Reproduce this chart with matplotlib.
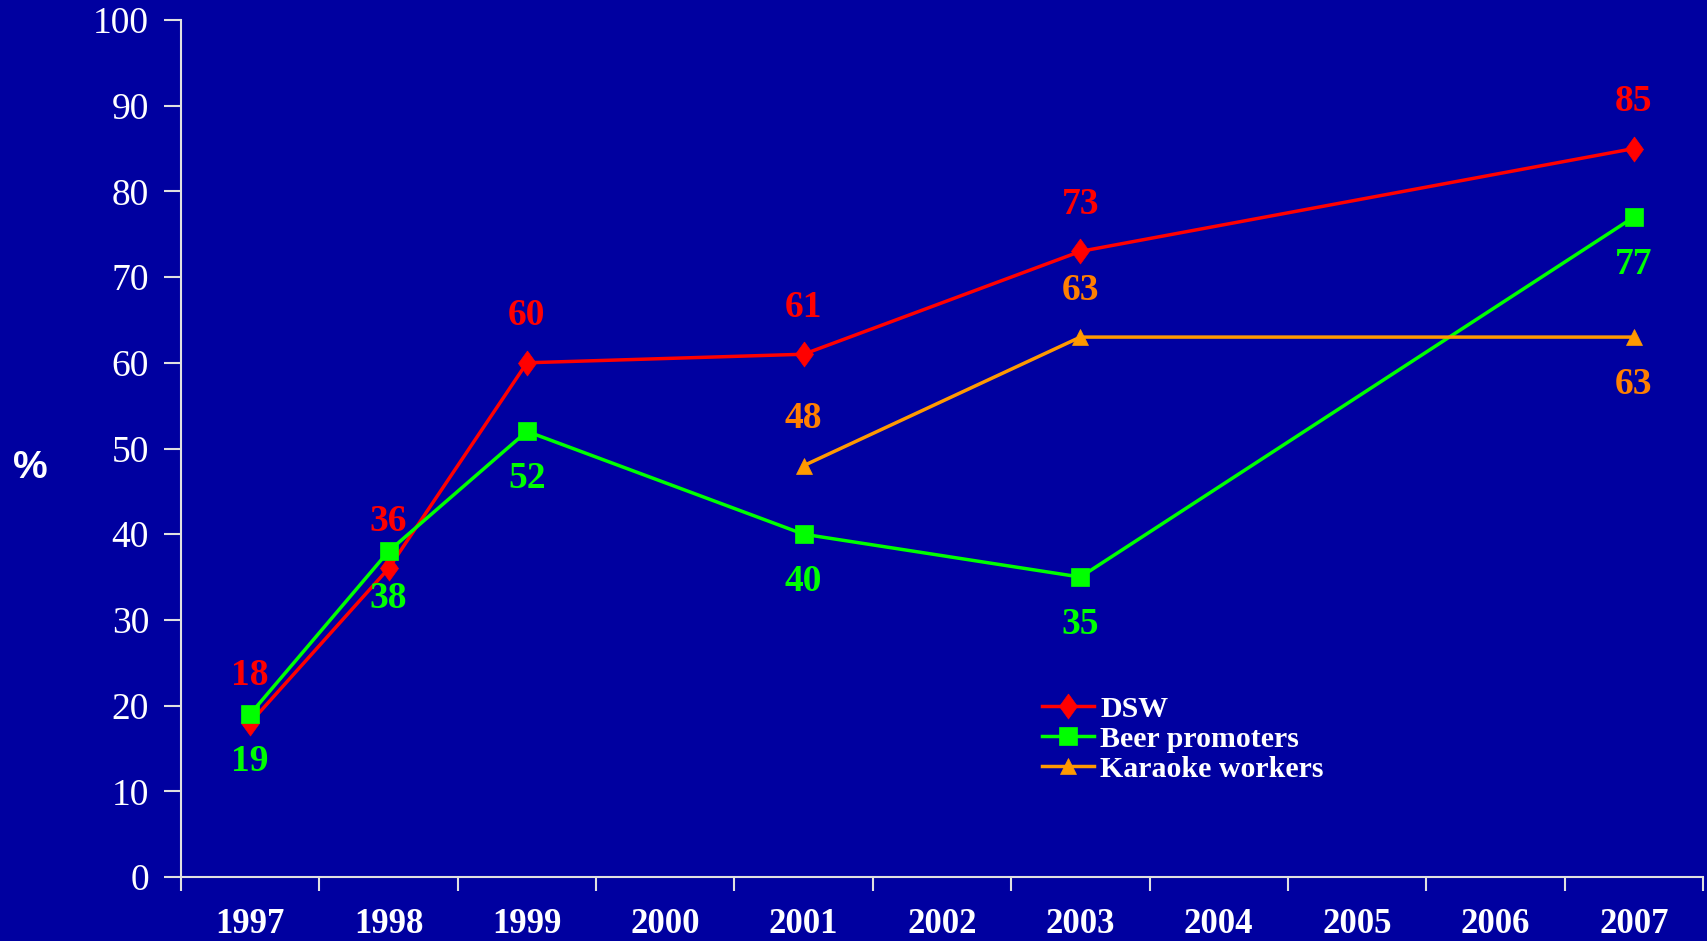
import matplotlib
matplotlib.use("Agg")
import matplotlib.pyplot as plt
import numpy as np

# data
years = ['1997', '1998', '1999', '2000', '2001', '2002', '2003', '2004', '2005', '2006', '2007']
dsw = [18, 36, 60, None, 61, None, 73, None, None, None, 85]
beer = [19, 38, 52, None, 40, None, 35, None, None, None, 77]
karaoke = [None, None, None, None, 48, None, 63, None, None, None, 63]
# label placement for each series: +1 above the point, -1 below
dsw_pos = [1, 1, 1, 0, 1, 0, 1, 0, 0, 0, 1]
beer_pos = [-1, -1, -1, 0, -1, 0, -1, 0, 0, 0, -1]
kar_pos = [0, 0, 0, 0, 1, 0, 1, 0, 0, 0, -1]

bg = '#0000A0'
fig = plt.figure(figsize=(17.08, 9.41), dpi=100, facecolor=bg)
ax = fig.add_axes([181/1708, 1-877/941, (1703-181)/1708, (877-20)/941])
ax.set_facecolor(bg)

# tall diamond like the original
tall_diamond = [(0, 1), (0.72, 0), (0, -1), (-0.72, 0), (0, 1)]

def draw(vals, pos, color, txtcolor, marker, ms, label):
    x = np.array([i for i, v in enumerate(vals) if v is not None])
    y = np.array([v for v in vals if v is not None])
    ax.plot(x, y, color=color, lw=2.5, marker=marker, ms=ms, mfc=color, mec=color, mew=0.5,
            label=label, clip_on=False)
    for i, v in enumerate(vals):
        if v is None:
            continue
        ax.annotate(str(v), (i, v), xytext=(0, 47*pos[i]), textcoords='offset pixels',
                    ha='center', va='center', color=txtcolor, fontsize=27,
                    fontweight='bold', family='Liberation Serif')

draw(dsw, dsw_pos, '#FF0000', '#FF0000', tall_diamond, 18, 'DSW')
draw(beer, beer_pos, '#00FF00', '#00FF00', 's', 13.5, 'Beer promoters')
draw(karaoke, kar_pos, '#FF9900', '#FF7F00', '^', 12, 'Karaoke workers')

ax.set_xlim(-0.5, 10.5)
ax.set_ylim(0, 100)
ax.set_yticks(np.arange(0, 101, 10))
ax.set_xticks(range(len(years)))
ax.set_xticklabels(years)
ax.set_xticks(np.arange(-0.5, 10.6, 1), minor=True)
ax.tick_params(axis='x', which='major', length=0, pad=22, colors='white')
ax.tick_params(axis='x', which='minor', length=10, width=1.5, color='#E0E0E0')
ax.tick_params(axis='y', length=12, width=1.5, color='#E0E0E0', pad=11, colors='white')
for lab in ax.get_xticklabels():
    lab.set_family('Liberation Serif')
    lab.set_fontweight('bold')
    lab.set_fontsize(25)
for lab in ax.get_yticklabels():
    lab.set_family('Liberation Serif')
    lab.set_fontsize(27)

for s in ['top', 'right']:
    ax.spines[s].set_visible(False)
for s in ['left', 'bottom']:
    ax.spines[s].set_color('#E0E0E0')
    ax.spines[s].set_linewidth(1.5)

fig.text(30/1708, 1-468/941, '%', color='white', fontsize=28, fontweight='bold',
         family='Liberation Sans', ha='center', va='center')

leg = ax.legend(loc='upper left', bbox_to_anchor=(1030/1708, 1-684/941), bbox_transform=fig.transFigure,
                frameon=False, handlelength=1.75, handletextpad=0.2, labelspacing=0.1,
                prop={'family': 'Liberation Serif', 'weight': 'bold', 'size': 21.5}, borderaxespad=0)
for t in leg.get_texts():
    t.set_color('white')

fig.savefig('out.png', dpi=100, facecolor=bg)
